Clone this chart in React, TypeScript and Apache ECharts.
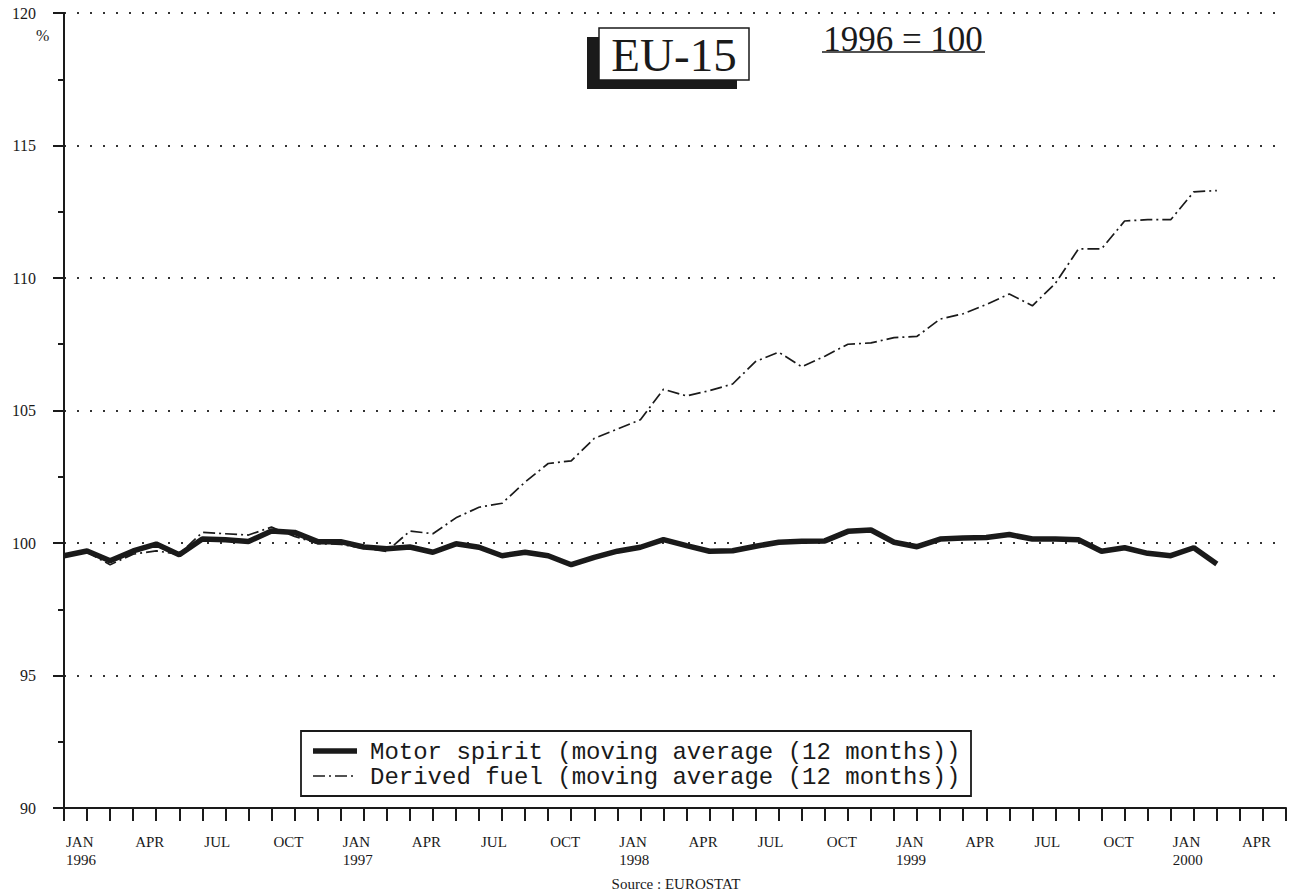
import React, { useEffect, useRef } from "react";
import * as echarts from "echarts";

// Months from JAN 1996 (index 0) to JUN 2000 (index 53)
const monthNames = ["JAN", "FEB", "MAR", "APR", "MAY", "JUN", "JUL", "AUG", "SEP", "OCT", "NOV", "DEC"];
const startYear = 1996;
const axisMonths = 54;

const yTicks = [90, 95, 100, 105, 110, 115, 120];

const seriesNames = [
  "Motor spirit (moving average (12 months))",
  "Derived fuel (moving average (12 months))",
];

// JAN 1996 .. MAR 2000 (51 months)
const motorSpirit = [
  99.52, 99.7, 99.33, 99.7, 99.96, 99.56, 100.15, 100.12, 100.06, 100.45, 100.4, 100.05,
  100.05, 99.85, 99.78, 99.85, 99.65, 99.97, 99.84, 99.52, 99.65, 99.52, 99.18, 99.46,
  99.69, 99.84, 100.13, 99.9, 99.69, 99.71, 99.88, 100.03, 100.07, 100.08, 100.44, 100.49,
  100.03, 99.86, 100.15, 100.19, 100.21, 100.32, 100.15, 100.15, 100.12, 99.69, 99.82, 99.61,
  99.52, 99.82, 99.21,
];

const derivedFuel = [
  99.5, 99.65, 99.18, 99.58, 99.7, 99.58, 100.4, 100.35, 100.3, 100.6, 100.25, 99.98,
  99.95, 99.8, 99.68, 100.45, 100.35, 100.95, 101.35, 101.5, 102.3, 103.0, 103.1, 103.95,
  104.3, 104.65, 105.8, 105.55, 105.75, 106.0, 106.85, 107.2, 106.65, 107.05, 107.5, 107.55,
  107.75, 107.8, 108.45, 108.65, 109.0, 109.4, 108.95, 109.8, 111.1, 111.1, 112.15, 112.2,
  112.2, 113.25, 113.3,
];

const sourceText = "Source : EUROSTAT";
const boxTitle = "EU-15";
const baseNote = "1996 = 100";

export default function App() {
  const ref = useRef<HTMLDivElement>(null);

  useEffect(() => {
    if (!ref.current) return;
    const chart = echarts.init(ref.current, undefined, { renderer: "svg" });
    const serif = "'Liberation Serif', 'Times New Roman', serif";
    const mono = "'Liberation Mono', 'Courier New', monospace";
    const ink = "#1a1a1a";
    const dash = [12, 4, 2, 4];

    const option: any = {
      animation: false,
      backgroundColor: "#ffffff",
      grid: { left: 64, right: 3, top: 13, bottom: 86, containLabel: false },
      xAxis: {
        type: "value",
        min: 0,
        max: axisMonths - 1,
        interval: 1,
        axisLine: { show: true, lineStyle: { color: ink, width: 2 } },
        axisTick: { show: true, length: 13, lineStyle: { color: ink, width: 2 } },
        splitLine: { show: false },
        axisLabel: {
          margin: 25,
          align: "left",
          padding: [0, 0, 0, 2],
          fontFamily: serif,
          fontSize: 15,
          lineHeight: 18,
          color: ink,
          formatter: (v: number) => {
            if (Math.round(v) !== v || v % 3 !== 0) return "";
            const m = v % 12;
            const y = startYear + Math.floor(v / 12);
            return m === 0 ? `${monthNames[m]}\n${y}` : monthNames[m];
          },
        },
      },
      yAxis: {
        type: "value",
        min: yTicks[0],
        max: yTicks[yTicks.length - 1],
        interval: 5,
        axisLine: { show: true, lineStyle: { color: ink, width: 2 } },
        axisTick: { show: true, length: 11, lineStyle: { color: ink, width: 2 } },
        minorTick: { show: true, splitNumber: 2, length: 6, lineStyle: { color: ink, width: 2 } },
        splitLine: {
          show: true,
          lineStyle: { color: "#333", width: 2, type: [2, 11] },
        },
        axisLabel: { margin: 28, fontFamily: serif, fontSize: 16, color: ink },
      },
      series: [
        {
          name: seriesNames[1],
          type: "line",
          showSymbol: false,
          symbol: "none",
          data: derivedFuel.map((v, i) => [i, v]),
          lineStyle: { color: ink, width: 1.7, type: dash },
          z: 2,
        },
        {
          name: seriesNames[0],
          type: "line",
          showSymbol: false,
          symbol: "none",
          data: motorSpirit.map((v, i) => [i, v]),
          lineStyle: { color: ink, width: 5.5 },
          z: 3,
        },
      ],
      graphic: [
        // "%" unit label
        { type: "text", left: 36, top: 27, style: { text: "%", font: `16px ${serif}`, fill: ink } },
        // EU-15 box with shadow
        { type: "rect", shape: { x: 587, y: 37, width: 150, height: 52 }, style: { fill: "#1a1a1a" }, z: 10 },
        {
          type: "rect",
          shape: { x: 599, y: 28, width: 150, height: 52 },
          style: { fill: "#ffffff", stroke: ink, lineWidth: 1.5 },
          z: 11,
        },
        {
          type: "text",
          x: 674,
          y: 55,
          style: { text: boxTitle, font: `47px ${serif}`, fill: ink, align: "center", verticalAlign: "middle" },
          z: 12,
        },
        // 1996 = 100 underlined
        {
          type: "text",
          x: 903,
          y: 39,
          style: { text: baseNote, font: `35px ${serif}`, fill: ink, align: "center", verticalAlign: "middle" },
          z: 12,
        },
        { type: "line", shape: { x1: 822, y1: 52, x2: 985, y2: 52 }, style: { stroke: ink, lineWidth: 1.5 }, z: 12 },
        // Legend
        {
          type: "rect",
          shape: { x: 301, y: 731, width: 670, height: 65 },
          style: { fill: "#ffffff", stroke: ink, lineWidth: 1.8 },
          z: 10,
        },
        { type: "line", shape: { x1: 313, y1: 751, x2: 357, y2: 751 }, style: { stroke: ink, lineWidth: 5.5 }, z: 11 },
        {
          type: "text",
          x: 370,
          y: 752,
          style: { text: seriesNames[0], font: `24px ${mono}`, fill: ink, verticalAlign: "middle" },
          z: 11,
        },
        {
          type: "line",
          shape: { x1: 313, y1: 776, x2: 357, y2: 776 },
          style: { stroke: ink, lineWidth: 1.7, lineDash: dash },
          z: 11,
        },
        {
          type: "text",
          x: 370,
          y: 777,
          style: { text: seriesNames[1], font: `24px ${mono}`, fill: ink, verticalAlign: "middle" },
          z: 11,
        },
        // Source
        {
          type: "text",
          x: 676,
          y: 884,
          style: { text: sourceText, font: `15px ${serif}`, fill: ink, align: "center", verticalAlign: "middle" },
        },
      ],
    };

    chart.setOption(option);
    return () => chart.dispose();
  }, []);

  return (
    <div
      ref={ref}
      style={{ position: "fixed", left: 0, top: 0, width: 1291, height: 894, background: "#fff" }}
    />
  );
}
